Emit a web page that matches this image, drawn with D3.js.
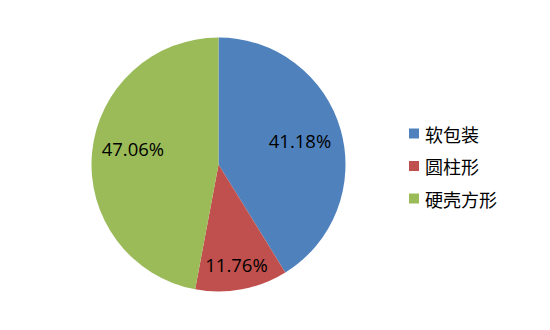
<!DOCTYPE html>
<html><head><meta charset="utf-8">
<script src="https://cdn.jsdelivr.net/npm/d3@7"></script>
<style>body{margin:0;background:#fff}svg{display:block}</style>
</head><body>
<svg id="c" width="550" height="330"></svg>
<script>
const categories = ["软包装", "圆柱形", "硬壳方形"];
const values = [41.18, 11.76, 47.06];
const labels = ["41.18%", "11.76%", "47.06%"];
const colors = ["#4F81BD", "#C0504D", "#9BBB59"];

const svg = d3.select("#c");
const cx = 218.5, cy = 164.5, r = 127;
const g = svg.append("g").attr("transform", `translate(${cx},${cy})`);
const pie = d3.pie().sort(null).value(d => d)(values);
const arc = d3.arc().innerRadius(0).outerRadius(r);
const color = d3.scaleOrdinal().domain(categories).range(colors);

g.selectAll("path").data(pie).join("path")
  .attr("d", arc)
  .attr("fill", (d, i) => color(categories[i]));

// label placement (layout): radius fraction and angular nudge per slice
function labelPoint(d, i) {
  const layout = [[0.67, -0.8], [0.80, 0.4], [0.685, 5]];
  const [f, da] = layout[i];
  const a = (d.startAngle + d.endAngle) / 2 + da * Math.PI / 180;
  return [Math.sin(a) * r * f, -Math.cos(a) * r * f];
}
g.selectAll("text.lbl").data(pie).join("text")
  .attr("class", "lbl")
  .attr("transform", (d, i) => `translate(${labelPoint(d, i)})`)
  .attr("text-anchor", "middle")
  .attr("dominant-baseline", "central")
  .style("font-family", "'Open Sans', sans-serif")
  .style("font-size", "18.5px")
  .attr("fill", "#000")
  .text((d, i) => labels[i]);

const lg = svg.append("g").attr("transform", "translate(409,133.5)");
const rows = lg.selectAll("g").data(categories).join("g")
  .attr("transform", (d, i) => `translate(0,${i * 32.5})`);
rows.append("rect").attr("x", 0).attr("y", -5).attr("width", 10).attr("height", 10)
  .attr("fill", d => color(d));
rows.append("text").attr("x", 16).attr("y", 0)
  .attr("dominant-baseline", "central")
  .style("font-family", "'Noto Sans CJK SC', sans-serif")
  .style("font-size", "18px")
  .attr("fill", "#000")
  .text(d => d);
</script>
</body></html>
